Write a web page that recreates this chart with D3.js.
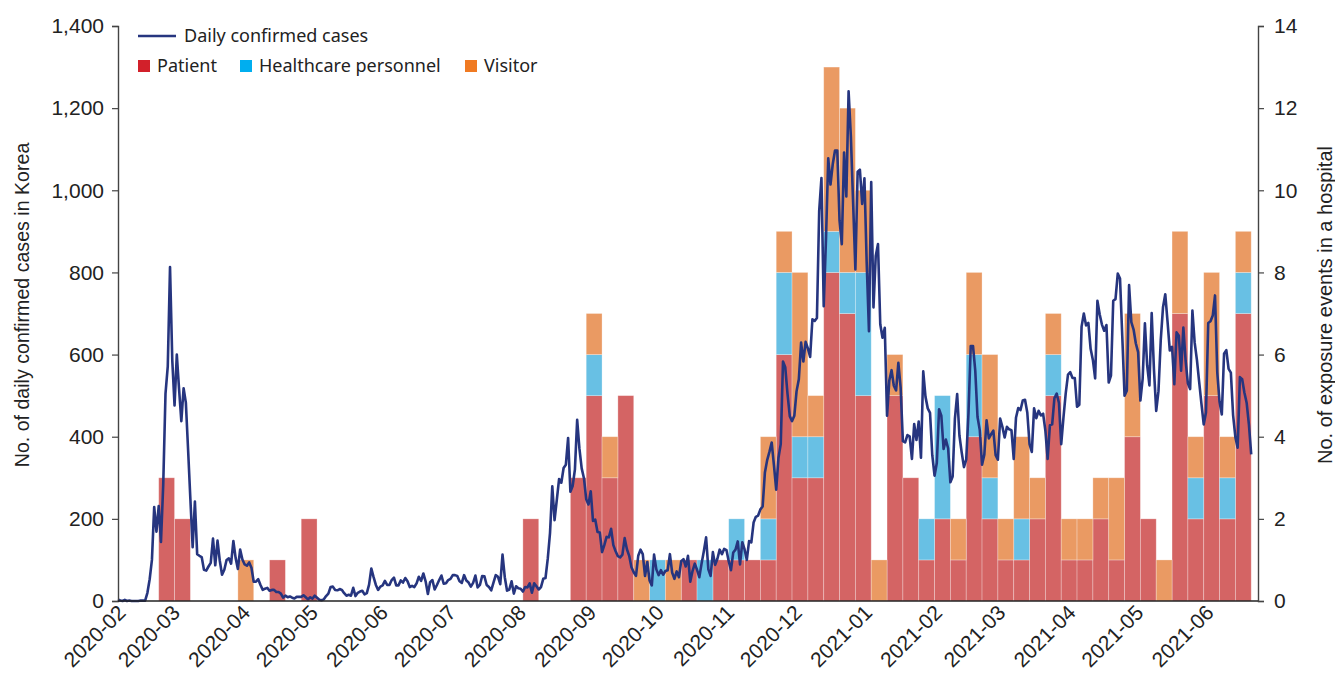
<!DOCTYPE html>
<html>
<head>
<meta charset="utf-8">
<script src="https://cdn.jsdelivr.net/npm/d3@7"></script>
<style>
  body { margin: 0; background: #fff; }
  svg { display: block; }
</style>
</head>
<body>
<div id="visualization"></div>
<script>
// weekly exposure events (weeks start on Monday, first week 2020-02-24)
const firstWeek = "2020-02-24"
const patient = [3, 2, 0, 0, 0, 0, 0, 1, 0, 2, 0, 0, 0, 0, 0, 0, 0, 0, 0, 0, 0, 0, 0, 2, 0, 0, 3, 5, 3, 5,
  0, 0, 0, 1, 0, 1, 1, 1, 1, 6, 3, 3, 8, 7, 5, 0, 5, 3, 1, 2, 1, 4, 2, 1, 1, 2, 5, 1, 1, 2,
  1, 4, 2, 0, 7, 2, 5, 2, 7]
const healthcare = [0, 0, 0, 0, 0, 0, 0, 0, 0, 0, 0, 0, 0, 0, 0, 0, 0, 0, 0, 0, 0, 0, 0, 0, 0, 0, 0, 1, 0, 0,
  0, 1, 0, 0, 1, 0, 1, 0, 1, 2, 1, 1, 1, 1, 3, 0, 0, 0, 1, 3, 0, 2, 1, 0, 1, 0, 1, 0, 0, 0,
  0, 0, 0, 0, 0, 1, 0, 1, 1]
const visitor = [0, 0, 0, 0, 0, 1, 0, 0, 0, 0, 0, 0, 0, 0, 0, 0, 0, 0, 0, 0, 0, 0, 0, 0, 0, 0, 0, 1, 1, 0,
  1, 0, 1, 0, 0, 0, 0, 0, 2, 1, 4, 1, 4, 4, 2, 1, 1, 0, 0, 0, 1, 2, 3, 1, 2, 1, 1, 1, 1, 1,
  2, 3, 0, 1, 2, 1, 3, 1, 1]

// daily confirmed cases, one value per day from 2020-02-06
const firstDay = "2020-02-06"
const daily = [
  // Feb 2020
  4, 1, 0, 3, 0, 1, 0, 0, 0, 0, 1, 1, 1, 20, 53, 100, 229, 169, 231, 144, 284, 505, 571, 813,
  // Mar
  586, 476, 600, 516, 438, 518, 483, 367, 248, 131, 242, 114, 110, 107, 76, 74, 84, 93, 152, 87, 147, 98, 64, 76, 100, 104, 91, 146, 105, 78, 125,
  // Apr
  101, 89, 86, 94, 81, 47, 47, 53, 39, 27, 30, 32, 25, 27, 27, 22, 22, 18, 8, 13, 9, 11, 8, 6, 10, 10, 10, 14, 9, 4,
  // May
  9, 6, 13, 8, 3, 2, 4, 12, 18, 34, 35, 27, 26, 29, 27, 19, 13, 15, 13, 32, 12, 20, 23, 25, 16, 19, 40, 79, 58, 39, 27,
  // Jun
  35, 38, 49, 39, 39, 51, 57, 38, 38, 50, 45, 56, 48, 34, 37, 34, 43, 59, 49, 67, 48, 17, 46, 51, 28, 39, 51, 62, 42, 43,
  // Jul
  51, 54, 63, 63, 61, 48, 44, 63, 50, 45, 35, 44, 62, 33, 39, 61, 60, 39, 34, 26, 45, 63, 59, 41, 113, 58, 25, 28, 48, 18, 36,
  // Aug
  31, 30, 23, 34, 33, 43, 20, 43, 36, 28, 34, 54, 56, 103, 166, 279, 197, 246, 297, 288, 324, 332, 397, 266, 280, 320, 441, 371, 323, 299, 248,
  // Sep
  235, 267, 195, 198, 168, 167, 119, 136, 156, 155, 176, 136, 121, 109, 106, 113, 153, 126, 110, 82, 70, 61, 110, 125, 114, 61, 95, 50, 38, 113,
  // Oct
  77, 63, 75, 64, 73, 75, 114, 69, 54, 72, 58, 97, 102, 84, 110, 47, 73, 91, 76, 58, 91, 121, 155, 77, 61, 119, 88, 103, 125, 114, 127,
  // Nov
  124, 97, 75, 118, 125, 145, 89, 143, 126, 100, 146, 143, 191, 205, 208, 223, 230, 313, 343, 363, 386, 330, 271, 349, 382, 583, 569, 504, 450, 438,
  // Dec
  451, 511, 540, 629, 583, 631, 615, 594, 686, 682, 689, 950, 1030, 718, 880, 1078, 1014, 1064, 1097, 1097, 926, 869, 1092, 985, 1241, 1132, 970, 807, 1045, 1050, 967,
  // Jan 2021
  1029, 824, 657, 1020, 715, 840, 869, 674, 641, 665, 451, 537, 562, 524, 513, 580, 520, 389, 386, 404, 401, 346, 431, 392, 437, 349, 559, 497, 469, 458, 355,
  // Feb
  305, 336, 467, 451, 370, 393, 372, 289, 303, 444, 504, 403, 362, 326, 344, 457, 621, 621, 561, 448, 416, 332, 356, 440, 396, 406, 415, 355,
  // Mar
  344, 444, 424, 398, 424, 418, 416, 346, 446, 470, 465, 488, 490, 459, 382, 363, 469, 445, 463, 452, 456, 415, 346, 428, 430, 494, 505, 482, 382, 447, 506,
  // Apr
  551, 557, 543, 543, 473, 478, 668, 700, 671, 677, 614, 587, 542, 731, 698, 673, 658, 672, 532, 549, 731, 735, 797, 785, 644, 500, 512, 769, 679, 661,
  // May
  627, 606, 488, 541, 676, 574, 525, 701, 564, 463, 511, 635, 715, 747, 681, 610, 619, 528, 654, 646, 561, 666, 585, 530, 516, 707, 629, 587, 533, 480, 430,
  // Jun
  459, 677, 681, 695, 744, 556, 485, 454, 602, 611, 565, 556, 452, 399, 373, 545, 540, 507, 482, 429, 357
]

const axisStart = "2020-02-06"
const axisEnd = "2021-06-24"
const monthTicks = ["2020-02-06", "2020-03-01", "2020-04-01", "2020-05-01", "2020-06-01", "2020-07-01", "2020-08-01",
  "2020-09-01", "2020-10-01", "2020-11-01", "2020-12-01", "2021-01-01", "2021-02-01", "2021-03-01",
  "2021-04-01", "2021-05-01", "2021-06-01"]
const leftTicks = [0, 200, 400, 600, 800, 1000, 1200, 1400]
const rightTicks = [0, 2, 4, 6, 8, 10, 12, 14]
const groups = ["Patient", "Healthcare personnel", "Visitor"]

const width = 1335
const height = 675
const plot = { left: 118, right: 1258, top: 26, bottom: 601 }
const barColors = ["#d46464", "#68c0e4", "#ea9a63"]
const keyColors = ["#d2202a", "#00aeef", "#f07a22"]
const lineColor = "#26357f"
const tickFont = "'Liberation Sans', Arial, sans-serif"
const keyFont = "'Noto Sans', sans-serif"

const parse = d3.utcParse("%Y-%m-%d")
const fmt = d3.utcFormat("%Y-%m")

const x = d3.scaleUtc()
  .domain([parse(axisStart), parse(axisEnd)])
  .range([plot.left, plot.right])
const yLeft = d3.scaleLinear().domain([0, 1400]).range([plot.bottom, plot.top])
const yRight = d3.scaleLinear().domain([0, 14]).range([plot.bottom, plot.top])

const svg = d3.select('#visualization')
  .append('svg')
  .attr('width', width)
  .attr('height', height)

// stack the weekly bars
const weeks = patient.map((p, i) => ({
  start: d3.utcDay.offset(parse(firstWeek), i * 7),
  Patient: p,
  "Healthcare personnel": healthcare[i],
  Visitor: visitor[i]
}))
const stacked = d3.stack().keys(groups)(weeks)

stacked.forEach((layer, k) => {
  svg.append('g')
    .selectAll('rect')
    .data(layer.filter(d => d[1] > d[0]))
    .join('rect')
    .attr('x', d => x(d.data.start))
    .attr('width', d => x(d3.utcDay.offset(d.data.start, 7)) - x(d.data.start))
    .attr('y', d => yRight(d[1]))
    .attr('height', d => yRight(d[0]) - yRight(d[1]))
    .attr('fill', barColors[k])
    .attr('stroke', '#fff')
    .attr('stroke-opacity', 0.35)
    .attr('stroke-width', 0.8)
})

// daily line
const line = d3.line()
  .x((d, i) => x(d3.utcDay.offset(parse(firstDay), i)))
  .y(d => yLeft(d))

svg.append('path')
  .attr('d', line(daily))
  .attr('fill', 'none')
  .attr('stroke', lineColor)
  .attr('stroke-width', 2.6)
  .attr('stroke-linejoin', 'round')

// axes
const left = svg.append('g')
  .attr('transform', `translate(${plot.left},0)`)
  .call(d3.axisLeft(yLeft).tickValues(leftTicks).tickFormat(d3.format(',')).tickSize(6).tickPadding(8))
const right = svg.append('g')
  .attr('transform', `translate(${plot.right},0)`)
  .call(d3.axisRight(yRight).tickValues(rightTicks).tickSize(6).tickPadding(10))

;[left, right].forEach(g => {
  g.select('.domain').attr('stroke', '#444').attr('stroke-width', 1.4)
  g.selectAll('.tick line').attr('stroke', '#444').attr('stroke-width', 1.2)
  g.selectAll('.tick text')
    .attr('font-family', tickFont)
    .attr('font-size', 21)
    .attr('fill', '#222')
})

svg.append('line')
  .attr('x1', plot.left)
  .attr('x2', plot.right)
  .attr('y1', plot.bottom)
  .attr('y2', plot.bottom)
  .attr('stroke', '#222')
  .attr('stroke-width', 1.4)

svg.append('g')
  .selectAll('text')
  .data(monthTicks.map(parse))
  .join('text')
  .attr('transform', d => `translate(${x(d) + 9},${plot.bottom + 13}) rotate(-45)`)
  .attr('text-anchor', 'end')
  .attr('font-family', tickFont)
  .attr('font-size', 21)
  .attr('fill', '#222')
  .text((d, i) => i == 0 ? "2020-02" : fmt(d))

// axis titles
const titleY = 305
svg.append('text')
  .attr('transform', `translate(22,${titleY}) rotate(-90)`)
  .attr('text-anchor', 'middle')
  .attr('dominant-baseline', 'central')
  .attr('font-family', tickFont)
  .attr('font-size', 19.6)
  .attr('fill', '#222')
  .text('No. of daily confirmed cases in Korea')

svg.append('text')
  .attr('transform', `translate(1325,${titleY}) rotate(-90)`)
  .attr('text-anchor', 'middle')
  .attr('dominant-baseline', 'central')
  .attr('font-family', tickFont)
  .attr('font-size', 20)
  .attr('fill', '#222')
  .text('No. of exposure events in a hospital')

// legend
const legend = svg.append('g')
legend.append('line')
  .attr('x1', 138).attr('x2', 176)
  .attr('y1', 36).attr('y2', 36)
  .attr('stroke', lineColor)
  .attr('stroke-width', 2.6)
legend.append('text')
  .attr('x', 184)
  .attr('y', 42)
  .attr('font-family', keyFont)
  .attr('font-size', 18)
  .attr('fill', '#222')
  .text('Daily confirmed cases')

const keyX = [138, 240, 465]
groups.forEach((g, i) => {
  legend.append('rect')
    .attr('x', keyX[i])
    .attr('y', 60)
    .attr('width', 12)
    .attr('height', 12)
    .attr('fill', keyColors[i])
  legend.append('text')
    .attr('x', keyX[i] + 19)
    .attr('y', 72)
    .attr('font-family', keyFont)
    .attr('font-size', 18)
    .attr('fill', '#222')
    .text(g)
})
</script>
</body>
</html>
